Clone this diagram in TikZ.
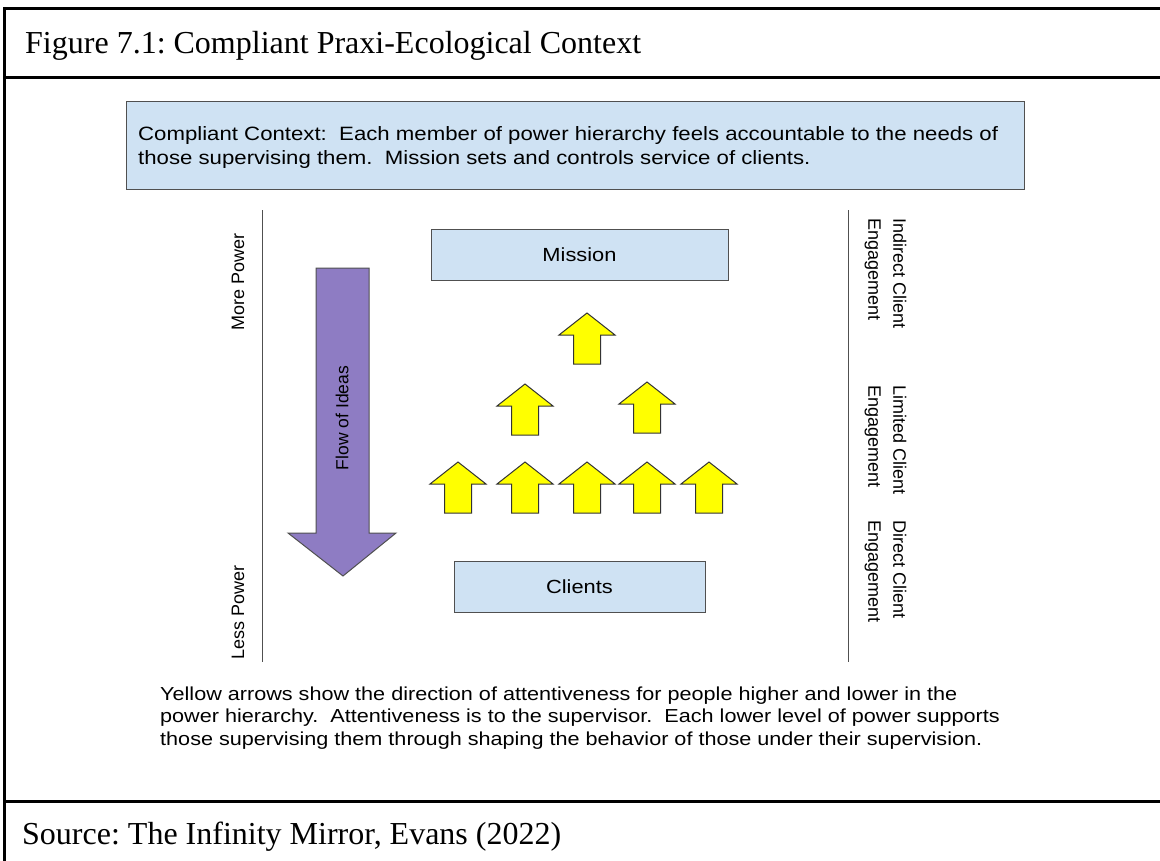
\documentclass[tikz,border=0pt]{standalone}
\usepackage{fontspec}
\setmainfont{Liberation Serif}
\newfontfamily\arialw[FakeStretch=1.15]{Liberation Sans}
\newfontfamily\arial{Liberation Sans}
\frenchspacing
\definecolor{lblue}{HTML}{CFE2F3}
\definecolor{purp}{HTML}{8E7CC3}
\definecolor{edgegray}{HTML}{505050}
\definecolor{yel}{HTML}{FFFF00}
\tikzset{
  frameline/.style={line width=3pt, black},
  bluebox/.style={draw=edgegray, fill=lblue, line width=1pt},
  boxlabel/.style={inner sep=0pt, font=\arialw\fontsize{19}{23}\selectfont},
  bodytext/.style={inner sep=0pt, align=left, anchor=base west},
  vlabel/.style={inner sep=0pt, font=\arial\fontsize{18}{25}\selectfont},
  rlabel/.style={inner sep=0pt, align=left, rotate=-90, anchor=west, font=\arial\fontsize{18}{25}\selectfont},
  divider/.style={draw=edgegray, line width=1pt},
  yarrow/.style={draw=black!80, fill=yel, line width=1pt, line join=miter},
  parrow/.style={draw=edgegray, fill=purp, line width=1pt},
  uparr/.pic={\draw[yarrow] (0,0) -- (28,22) -- (13.5,22) -- (13.5,51) -- (-13.5,51) -- (-13.5,22) -- (-28,22) -- cycle;}
}
\begin{document}
\begin{tikzpicture}[x=1pt,y=-1pt]
\useasboundingbox (0,0) rectangle (1160,860);
\fill[white] (0,0) rectangle (1160,860);
\begin{scope}
\clip (0,0) rectangle (1160,860);
\draw[frameline] (4.5,880) -- (4.5,8.5) -- (1175,8.5);
\draw[frameline] (3,77) -- (1175,77);
\draw[frameline] (3,801) -- (1175,801);
\end{scope}
% title and source
\node[inner sep=0pt, anchor=base west, font=\fontsize{32}{36}\selectfont] (title) at (25,53) {Figure 7.1: Compliant Praxi-Ecological Context};
\node[inner sep=0pt, anchor=base west, font=\fontsize{32}{36}\selectfont] (source) at (22,844) {Source: The Infinity Mirror, Evans (2022)};
% context box
\node[bluebox, anchor=north west, minimum width=898pt, minimum height=88pt] (ctx) at (126,101) {};
\node[bodytext, font=\arialw\fontsize{19.3}{24}\selectfont] (ctxtext) at (138,164)
  {Compliant Context:~ Each member of power hierarchy feels accountable to the needs of\\
   those supervising them.~ Mission sets and controls service of clients.};
% dividers
\coordinate (l1) at (262,210); \coordinate (l2) at (262,662);
\coordinate (r1) at (848,210); \coordinate (r2) at (848,662);
\draw[divider] (l1) -- (l2);
\draw[divider] (r1) -- (r2);
% left labels
\node[vlabel, rotate=90] (more) at (238,282) {More Power};
\node[vlabel, rotate=90] (less) at (238,612) {Less Power};
% right labels
\node[rlabel] (indirect) at (885.5,218) {Indirect Client\\Engagement};
\node[rlabel] (limited) at (885.5,385) {Limited Client\\Engagement};
\node[rlabel] (direct) at (885.5,520) {Direct Client\\Engagement};
% mission and clients
\node[bluebox, boxlabel, minimum width=297pt, minimum height=51pt] (mission) at (579.5,254.5) {Mission};
\node[bluebox, boxlabel, minimum width=251pt, minimum height=51pt] (clients) at (579.5,586.5) {Clients};
% purple arrow
\draw[parrow] (316,268) -- (369,268) -- (369,533) -- (396,533) -- (343,576) -- (288,533) -- (316,533) -- cycle;
\node[vlabel, rotate=90, font=\arial\fontsize{17.5}{20}\selectfont] (flow) at (342,418) {Flow of Ideas};
% yellow arrows
\pic at (587,313) {uparr};
\pic at (525,384) {uparr};
\pic at (647,382) {uparr};
\pic at (458,462) {uparr};
\pic at (525,462) {uparr};
\pic at (587,462) {uparr};
\pic at (647,462) {uparr};
\pic at (709,462) {uparr};
% bottom text
\node[bodytext, font=\arialw\fontsize{18.8}{22.5}\selectfont] (note) at (160,745)
  {Yellow arrows show the direction of attentiveness for people higher and lower in the\\
   power hierarchy.~ Attentiveness is to the supervisor.~ Each lower level of power supports\\
   those supervising them through shaping the behavior of those under their supervision.};
\end{tikzpicture}
\end{document}
